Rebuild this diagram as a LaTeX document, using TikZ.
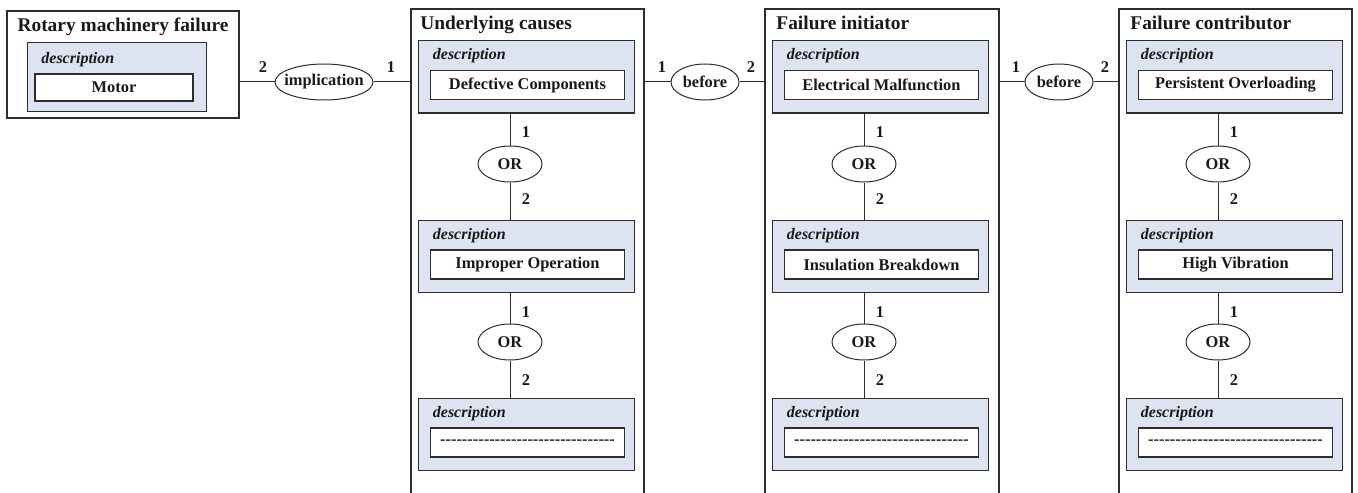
\documentclass[tikz,border=0pt]{standalone}
\usepackage{fontspec}
\setmainfont{Liberation Serif}
\usetikzlibrary{shapes.geometric}
\definecolor{linecol}{RGB}{45,45,45}
\definecolor{descfill}{RGB}{221,227,241}
\def\titlefont{\bfseries\fontsize{9.7}{11}\selectfont}
\def\valfont{\bfseries\fontsize{8.2}{10}\selectfont}
\def\descfont{\bfseries\itshape\fontsize{8}{10}\selectfont}
\def\dashline{\foreach \d in {1,...,32}{-\kern0pt}}
\tikzset{
	framebox/.style={draw=linecol, line width=0.6pt, rectangle, inner sep=0pt},
	descbox/.style={draw=linecol, line width=0.5pt, fill=descfill, inner sep=0pt, minimum width=108pt, minimum height=36pt},
	valbox/.style={draw=linecol, line width=0.6pt, fill=white, inner sep=0pt, minimum width=97pt, minimum height=14.5pt, font=\valfont, text=black!90},
	rel/.style={draw=linecol, line width=0.5pt, ellipse, inner sep=0pt, minimum width=32pt, minimum height=18pt, font=\valfont, text=black!90},
	cardlabel/.style={inner sep=0pt, font=\valfont, text=black!90},
	boxtitle/.style={anchor=base west, inner sep=0pt, font=\titlefont, text=black!90},
	desclabel/.style={anchor=base west, inner sep=0pt, font=\descfont, text=black!90},
	conn/.style={draw=linecol, line width=0.5pt}
}

\begin{document}
\begin{tikzpicture}[x=0.5pt, y=-0.5pt]
		\useasboundingbox (0,0) rectangle (1358,492);
		%%%%% START %%%%%
		
		% rotary machinery failure
		\node[framebox, minimum width=116pt, minimum height=53.5pt] (rmf) at (123,64.5) {};
		\node[boxtitle, anchor=base] (rmft) at (123,32) {Rotary machinery failure};
		\node[descbox, minimum width=89.5pt, minimum height=34.5pt] (rmf1) at (116.5,77.5) {};
		\node[desclabel] (rmf1d) at (41,64) {description};
		\node[valbox, minimum width=79pt, minimum height=13.5pt] (rmf1v) at (114,87.5) {Motor};
		
		\node[rel, minimum width=49pt] (imp) at (324,82) {\makebox[0pt]{implication}};
		\draw[conn] (rmf.east |- imp) -- (imp);
		\node[cardlabel] (impa) at (263,67) {2};
		\node[cardlabel] (impb) at (391,67) {1};
		
		% underlying causes
		\node[framebox, minimum width=116.5pt, minimum height=260.5pt] (uc) at (527.5,269.5) {};
		\draw[conn] (imp) -- (imp -| uc.west);
		\node[boxtitle] (uct) at (420,30) {Underlying causes};
		
		\node[descbox] (uc1) at (526.5,77) {};
		\node[desclabel] (uc1d) at (432.5,60) {description};
		\node[valbox] (uc1v) at (527.5,85) {Defective Components};
		
		\node[rel] (uc1or) at (510,164) {OR};
		\node[cardlabel] (uc1a) at (526,132) {1};
		\node[cardlabel] (uc1b) at (526,199) {2};
		
		\node[descbox] (uc2) at (526.5,256) {};
		\node[desclabel] (uc2d) at (432.5,239) {description};
		\node[valbox] (uc2v) at (527.5,264.5) {Improper Operation};
		\draw[conn] (uc1.south -| uc1or) -- (uc1or);
		\draw[conn] (uc1or) -- (uc1or |- uc2.north);
		
		\node[rel] (uc2or) at (510,342) {OR};
		\node[cardlabel] (uc2a) at (526,312) {1};
		\node[cardlabel] (uc2b) at (526,380) {2};
		
		\node[descbox] (uc3) at (526.5,434.5) {};
		\node[desclabel] (uc3d) at (432.5,417) {description};
		\node[valbox] (uc3v) at (527.5,442.5) {\dashline};
		\draw[conn] (uc2.south -| uc2or) -- (uc2or);
		\draw[conn] (uc2or) -- (uc2or |- uc3.north);
		
		\node[rel, minimum width=34pt] (bef1) at (705,82) {before};
		\draw[conn] (uc.east |- bef1) -- (bef1);
		\node[cardlabel] (bef1a) at (662,67) {1};
		\node[cardlabel] (bef1b) at (751,67) {2};
		
		% failure initiator
		\node[framebox, minimum width=117pt, minimum height=260.5pt] (fi) at (882,269.5) {};
		\draw[conn] (bef1) -- (bef1 -| fi.west);
		\node[boxtitle] (fit) at (776,30) {Failure initiator};
		
		\node[descbox] (fi1) at (880.5,77) {};
		\node[desclabel] (fi1d) at (786.5,60) {description};
		\node[valbox] (fi1v) at (881.5,85) {Electrical Malfunction};
		
		\node[rel] (fi1or) at (864,164) {OR};
		\node[cardlabel] (fi1a) at (880,132) {1};
		\node[cardlabel] (fi1b) at (880,199) {2};
		
		\node[descbox] (fi2) at (880.5,256) {};
		\node[desclabel] (fi2d) at (786.5,239) {description};
		\node[valbox] (fi2v) at (881.5,264.5) {Insulation Breakdown};
		\draw[conn] (fi1.south -| fi1or) -- (fi1or);
		\draw[conn] (fi1or) -- (fi1or |- fi2.north);
		
		\node[rel] (fi2or) at (864,342) {OR};
		\node[cardlabel] (fi2a) at (880,312) {1};
		\node[cardlabel] (fi2b) at (880,380) {2};
		
		\node[descbox] (fi3) at (880.5,434.5) {};
		\node[desclabel] (fi3d) at (786.5,417) {description};
		\node[valbox] (fi3v) at (881.5,442.5) {\dashline};
		\draw[conn] (fi2.south -| fi2or) -- (fi2or);
		\draw[conn] (fi2or) -- (fi2or |- fi3.north);
		
		\node[rel, minimum width=34pt] (bef2) at (1059,82) {before};
		\draw[conn] (fi.east |- bef2) -- (bef2);
		\node[cardlabel] (bef2a) at (1016,67) {1};
		\node[cardlabel] (bef2b) at (1105,67) {2};
		
		% failure contributor
		\node[framebox, minimum width=116.5pt, minimum height=260.5pt] (fc) at (1235.5,269.5) {};
		\draw[conn] (bef2) -- (bef2 -| fc.west);
		\node[boxtitle] (fct) at (1130,30) {Failure contributor};
		
		\node[descbox] (fc1) at (1234.5,77) {};
		\node[desclabel] (fc1d) at (1140.5,60) {description};
		\node[valbox] (fc1v) at (1235.5,85) {Persistent Overloading};
		
		\node[rel] (fc1or) at (1218,164) {OR};
		\node[cardlabel] (fc1a) at (1234,132) {1};
		\node[cardlabel] (fc1b) at (1234,199) {2};
		
		\node[descbox] (fc2) at (1234.5,256) {};
		\node[desclabel] (fc2d) at (1140.5,239) {description};
		\node[valbox] (fc2v) at (1235.5,264.5) {High Vibration};
		\draw[conn] (fc1.south -| fc1or) -- (fc1or);
		\draw[conn] (fc1or) -- (fc1or |- fc2.north);
		
		\node[rel] (fc2or) at (1218,342) {OR};
		\node[cardlabel] (fc2a) at (1234,312) {1};
		\node[cardlabel] (fc2b) at (1234,380) {2};
		
		\node[descbox] (fc3) at (1234.5,434.5) {};
		\node[desclabel] (fc3d) at (1140.5,417) {description};
		\node[valbox] (fc3v) at (1235.5,442.5) {\dashline};
		\draw[conn] (fc2.south -| fc2or) -- (fc2or);
		\draw[conn] (fc2or) -- (fc2or |- fc3.north);
		
		%%%%% END %%%%%
\end{tikzpicture}
\end{document}
